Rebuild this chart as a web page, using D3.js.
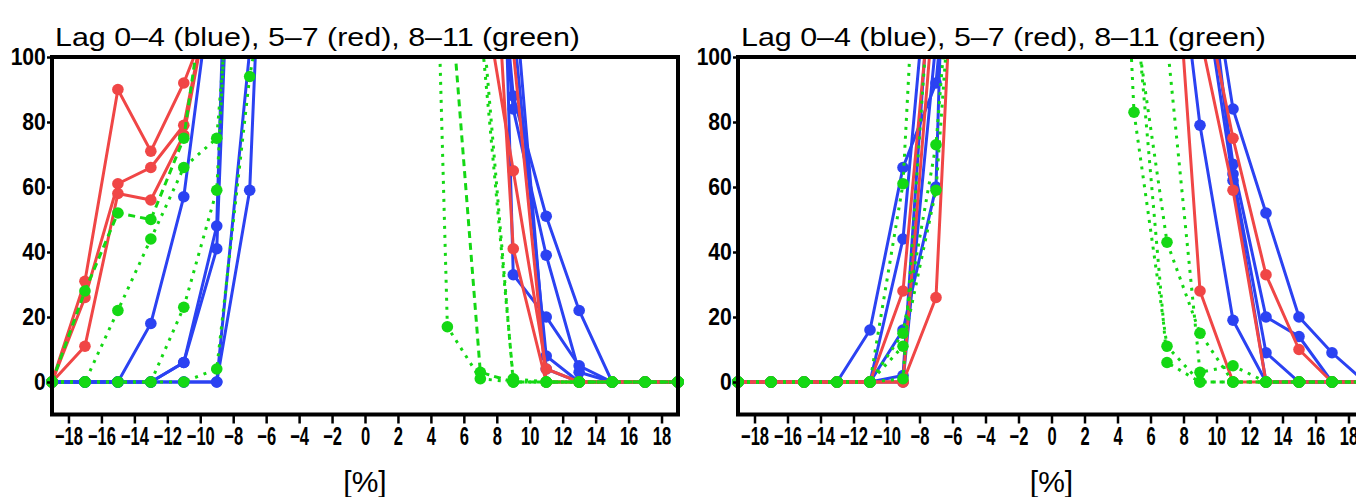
<!DOCTYPE html>
<html>
<head>
<meta charset="utf-8">
<script src="https://cdn.jsdelivr.net/npm/d3@7"></script>
<style>
  body { margin: 0; background: #fff; }
  svg { display: block; }
  .tick text { font-family: "Liberation Sans", Arial, sans-serif; font-weight: bold; fill: #000; }
  .title { font-family: "Liberation Sans", Arial, sans-serif; font-size: 26px; fill: #000; }
  .xlabel { font-family: "Liberation Sans", Arial, sans-serif; font-size: 30px; fill: #000; }
</style>
</head>
<body>
<svg id="chart" width="1356" height="497"></svg>
<script>
// x positions of the points (odd percentages)
const xValues = [-19, -17, -15, -13, -11, -9, -7, -5, -3, -1, 1, 3, 5, 7, 9, 11, 13, 15, 17, 19];
const xTicks = [-18, -16, -14, -12, -10, -8, -6, -4, -2, 0, 2, 4, 6, 8, 10, 12, 14, 16, 18];
const yTicks = [0, 20, 40, 60, 80, 100];
const titleText = "Lag 0\u20134 (blue), 5\u20137 (red), 8\u201311 (green)";

// values above 100 run off the top of the frame
const leftBlue = [
  [0, 0, 0, 18, 57, 135, 300, 300, 300, 300, 300, 300, 300, 200, 88, 51, 22, 0, 0, 0],
  [0, 0, 0, 0, 6, 48, 380, 300, 300, 300, 300, 300, 300, 190, 84, 39, 3, 0, 0, 0],
  [0, 0, 0, 0, 6, 41, 300, 300, 300, 300, 300, 300, 300, 400, 33, 20, 5, 0, 0, 0],
  [0, 0, 0, 0, 0, 0, 59, 300, 300, 300, 300, 300, 300, 300, 110, 8, 0, 0, 0, 0],
  [0, 0, 0, 0, 0, 0, 102, 300, 300, 300, 300, 300, 300, 300, 125, 4, 0, 0, 0, 0],
];
const leftRed = [
  [0, 31, 90, 71, 92, 118, 250, 300, 300, 300, 300, 300, 300, 126, 65, 4, 0, 0, 0, 0],
  [0, 26, 61, 66, 79, 130, 250, 300, 300, 300, 300, 300, 300, 210, 41, 0, 0, 0, 0, 0],
  [0, 11, 58, 56, 76, 130, 250, 300, 300, 300, 300, 300, 300, 250, 102, 0, 0, 0, 0, 0],
];
const leftGreen = [
  [0, 28, 52, 50, 75, 146, 300, 300, 300, 300, 300, 300, 132, 3, 0, 0, 0, 0, 0, 0],
  [0, 0, 22, 44, 66, 75, 200, 300, 300, 300, 300, 385, 17, 1, 0, 0, 0, 0, 0, 0],
  [0, 0, 0, 0, 23, 59, 260, 300, 300, 300, 300, 300, 300, 111, 1, 0, 0, 0, 0, 0],
  [0, 0, 0, 0, 0, 4, 94, 150, 300, 300, 300, 300, 300, 120, 0, 0, 0, 0, 0, 0],
];
const leftGreenDash = ["7,5", "3,6", "3,6", "3,6"];

const rightBlue = [
  [0, 0, 0, 0, 16, 66, 92, 200, 300, 300, 300, 300, 300, 163, 79, 19, 0, 0, 0, 0],
  [0, 0, 0, 0, 0, 44, 156, 300, 300, 300, 300, 300, 300, 300, 148, 84, 52, 20, 9, 0],
  [0, 0, 0, 0, 0, 16, 60, 400, 300, 300, 300, 300, 300, 300, 140, 67, 20, 14, 0, 0],
  [0, 0, 0, 0, 0, 2, 152, 300, 300, 300, 300, 300, 300, 300, 150, 64, 9, 0, 0, 0],
  [0, 0, 0, 0, 0, 0, 105, 300, 300, 300, 300, 300, 300, 300, 130, 62, 0, 0, 0, 0],
];
const rightRed = [
  [0, 0, 0, 0, 0, 28, 138, 300, 300, 300, 300, 300, 300, 172, 28, 0, 0, 0, 0, 0],
  [0, 0, 0, 0, 0, 0, 125, 300, 300, 300, 300, 300, 300, 300, 125, 75, 33, 10, 0, 0],
  [0, 0, 0, 0, 0, 0, 26, 236, 300, 300, 300, 300, 300, 300, 107, 59, 0, 0, 0, 0],
];
const rightGreen = [
  [0, 0, 0, 0, 0, 61, 255, 300, 300, 300, 300, 300, 83, 11, 0, 0, 0, 0, 0, 0],
  [0, 0, 0, 0, 0, 15, 73, 200, 300, 300, 300, 300, 114, 43, 15, 0, 0, 0, 0, 0],
  [0, 0, 0, 0, 0, 11, 59, 200, 300, 300, 300, 300, 123, 6, 0, 0, 0, 0, 0, 0],
  [0, 0, 0, 0, 0, 1, 150, 300, 300, 300, 300, 300, 300, 105, 3, 5, 0, 0, 0, 0],
];
const rightGreenDash = ["3,6", "3,6", "3,6", "3,6"];

const colors = { blue: "#2b42f2", red: "#f04646", green: "#14d814" };

const svg = d3.select("#chart");
const plotTop = 57;
const plotBottom = 414.5;

const y = d3.scaleLinear().domain([-10, 100]).range([plotBottom, plotTop]);

function drawPanel(id, left, right, blue, red, green, greenDash) {
  const x = d3.scaleLinear().domain([-19, 19]).range([left, right]);
  const g = svg.append("g");

  svg.append("clipPath")
    .attr("id", `clip-${id}`)
    .append("rect")
    .attr("x", left - 8)
    .attr("y", plotTop)
    .attr("width", right - left + 16)
    .attr("height", plotBottom - plotTop + 8);

  const plot = g.append("g").attr("clip-path", `url(#clip-${id})`);
  const line = d3.line().x((d, i) => x(xValues[i])).y((d) => y(d));

  function series(list, color, dashes) {
    list.forEach((vals, k) => {
      const s = plot.append("g");
      s.append("path")
        .attr("d", line(vals))
        .attr("fill", "none")
        .attr("stroke", color)
        .attr("stroke-width", 3)
        .attr("stroke-dasharray", dashes ? dashes[k] : null);
      s.selectAll("circle")
        .data(vals)
        .join("circle")
        .attr("cx", (d, i) => x(xValues[i]))
        .attr("cy", (d) => y(d))
        .attr("r", 5.8)
        .attr("fill", color);
    });
  }

  series(blue, colors.blue);
  series(red, colors.red);
  series(green, colors.green, greenDash);

  const yAxis = g.append("g")
    .attr("transform", `translate(${left},0)`)
    .call(d3.axisLeft(y).tickValues(yTicks).tickSize(5).tickPadding(2).tickFormat(d3.format("d")));
  yAxis.select(".domain").remove();
  yAxis.selectAll(".tick line").attr("stroke", "#000").attr("stroke-width", 2.5);
  yAxis.selectAll(".tick text").style("font-size", "24px").attr("transform", "scale(0.88,1)");

  const xAxis = g.append("g")
    .attr("transform", `translate(0,${plotBottom})`)
    .call(d3.axisBottom(x).tickValues(xTicks).tickSize(9).tickPadding(4).tickFormat(d3.format("d")));
  xAxis.select(".domain").remove();
  xAxis.selectAll(".tick line").attr("stroke", "#000").attr("stroke-width", 2.5);
  xAxis.selectAll(".tick text").style("font-size", "25px").attr("transform", "scale(0.66,1)");

  g.append("rect")
    .attr("x", left)
    .attr("y", plotTop)
    .attr("width", right - left)
    .attr("height", plotBottom - plotTop)
    .attr("fill", "none")
    .attr("stroke", "#000")
    .attr("stroke-width", 4);

  g.append("text")
    .attr("class", "title")
    .attr("x", left + 3)
    .attr("y", 46)
    .attr("textLength", 525)
    .attr("lengthAdjust", "spacingAndGlyphs")
    .text(titleText);

  g.append("text")
    .attr("class", "xlabel")
    .attr("x", x(0))
    .attr("y", 492)
    .attr("text-anchor", "middle")
    .text("[%]");
}

drawPanel("left", 52, 678, leftBlue, leftRed, leftGreen, leftGreenDash);
drawPanel("right", 738, 1365, rightBlue, rightRed, rightGreen, rightGreenDash);
</script>
</body>
</html>
